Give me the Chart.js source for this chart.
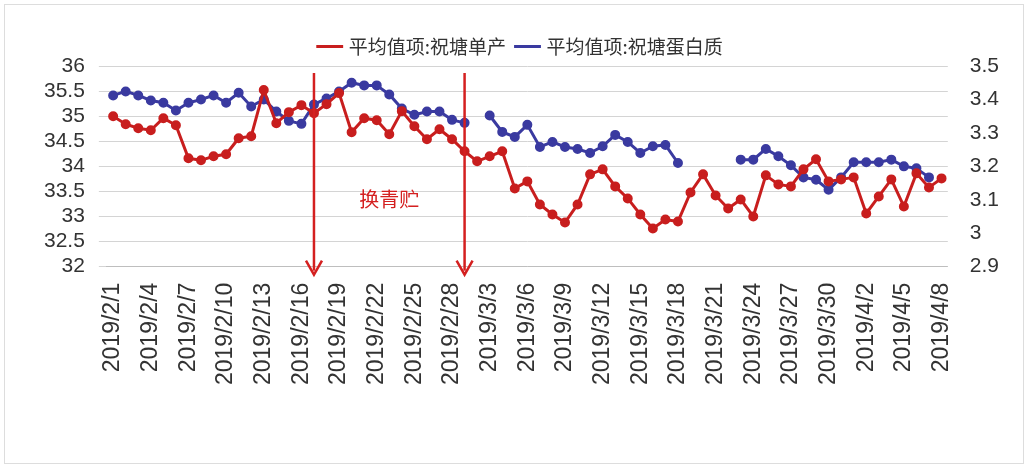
<!DOCTYPE html>
<html>
<head>
<meta charset="utf-8">
<script src="https://cdn.jsdelivr.net/npm/chart.js@4"></script>
<style>
body { margin: 0; background: #fff; }
#wrap { position: absolute; left: 4px; top: 4px; width: 1020px; height: 460px; border: 1px solid #ddd; box-sizing: border-box; }
</style>
</head>
<body>
<div id="wrap"><canvas id="c"></canvas></div>
<script>
// dates 2019/2/1 .. 2019/4/8
const labels = [];
for (let d = 1; d <= 28; d++) labels.push('2019/2/' + d);
for (let d = 1; d <= 31; d++) labels.push('2019/3/' + d);
for (let d = 1; d <= 8; d++) labels.push('2019/4/' + d);

const yieldVals = [
  35.0, 34.84, 34.76, 34.72, 34.96, 34.82, 34.16, 34.12, 34.2, 34.24, 34.56, 34.6, 35.52, 34.86,
  35.08, 35.22, 35.06, 35.24, 35.46, 34.68, 34.96, 34.92, 34.64, 35.1, 34.8, 34.54, 34.74, 34.54,
  34.3, 34.1, 34.2, 34.3, 33.56, 33.7, 33.24, 33.04, 32.88, 33.24, 33.84, 33.94, 33.6, 33.36,
  33.04, 32.76, 32.94, 32.9, 33.48, 33.84, 33.42, 33.16, 33.34, 33.0, 33.82, 33.64, 33.6, 33.94,
  34.14, 33.7, 33.74,
  33.78, 33.06, 33.4, 33.74, 33.2, 33.86, 33.58, 33.76
];
const proteinVals = [
  3.412, 3.424, 3.412, 3.397, 3.39, 3.367, 3.39, 3.40, 3.412, 3.39, 3.42, 3.379, 3.40, 3.364,
  3.336, 3.327, 3.385, 3.403, 3.424, 3.45, 3.442, 3.442, 3.415, 3.373, 3.354, 3.364, 3.364, 3.339,
  3.33, null, 3.352, 3.303, 3.288, 3.324, 3.258, 3.273, 3.258, 3.252, 3.24, 3.26, 3.294, 3.273,
  3.24, 3.26, 3.264, 3.21, null, null, null, null, 3.22, 3.22, 3.252, 3.23, 3.203, 3.167,
  3.16, 3.13, 3.167,
  3.212, 3.212, 3.212, 3.22, 3.2, 3.194, 3.167, null
];
const arrowDates = ['2019/2/17', '2019/3/1'];
const noteText = '换青贮';

const arrows = {
  id: 'arrows',
  afterDatasetsDraw(chart) {
    const { ctx, scales: { x, y } } = chart;
    ctx.save();
    ctx.strokeStyle = '#d42020';
    ctx.fillStyle = '#d42020';
    ctx.lineWidth = 2.5;
    arrowDates.forEach(d => {
      const px = x.getPixelForValue(labels.indexOf(d));
      const top = y.top + 7, bot = y.bottom + 8;
      ctx.beginPath(); ctx.moveTo(px, top); ctx.lineTo(px, bot - 4); ctx.stroke();
      ctx.beginPath();
      ctx.moveTo(px - 8, bot - 14); ctx.lineTo(px, bot); ctx.lineTo(px + 8, bot - 14);
      ctx.stroke();
    });
    const mx = x.getPixelForValue(labels.indexOf('2019/2/23'));
    ctx.font = '20px "Noto Sans CJK SC"';
    ctx.textAlign = 'center';
    ctx.textBaseline = 'middle';
    ctx.fillText(noteText, mx, y.getPixelForValue(33.35));
    ctx.restore();
  }
};

new Chart(document.getElementById('c'), {
  type: 'line',
  data: {
    labels: labels,
    datasets: [{
      label: '平均值项:祝塘单产',
      data: yieldVals,
      yAxisID: 'y',
      borderColor: '#c81e1e',
      backgroundColor: '#c81e1e',
      borderWidth: 3,
      pointRadius: 3.5,
      tension: 0
    }, {
      label: '平均值项:祝塘蛋白质',
      data: proteinVals,
      yAxisID: 'y1',
      borderColor: '#3a3aa0',
      backgroundColor: '#3a3aa0',
      borderWidth: 3,
      pointRadius: 3.5,
      tension: 0
    }]
  },
  options: {
    responsive: true,
    maintainAspectRatio: false,
    animation: false,
    layout: { padding: { left: 25, right: 10, top: 20, bottom: 70 } },
    plugins: {
      legend: {
        labels: {
          font: { size: 19, family: '"Noto Sans CJK SC"' },
          color: '#333',
          usePointStyle: true,
          pointStyle: 'line',
          boxWidth: 40,
          padding: 12
        }
      },
      tooltip: { enabled: false }
    },
    scales: {
      x: {
        offset: true,
        grid: { display: false },
        ticks: {
          autoSkip: false,
          maxRotation: 90,
          minRotation: 90,
          font: { size: 23, family: 'Liberation Sans' },
          color: '#333',
          padding: 8,
          callback: (v, i) => i % 3 === 0 ? labels[i] : ''
        }
      },
      y: {
        min: 32, max: 36,
        ticks: { autoSkip: false, stepSize: 0.5, font: { size: 21, family: 'Liberation Sans' }, color: '#333', padding: 14,
          callback: v => String(v) },
        grid: { color: '#d4d4d4' },
        border: { display: false }
      },
      y1: {
        position: 'right',
        min: 2.9, max: 3.5,
        ticks: { autoSkip: false, stepSize: 0.1, font: { size: 21, family: 'Liberation Sans' }, color: '#333', padding: 14,
          callback: v => String(Math.round(v * 10) / 10) },
        grid: { display: false },
        border: { display: false }
      }
    }
  },
  plugins: [arrows]
});
</script>
</body>
</html>
